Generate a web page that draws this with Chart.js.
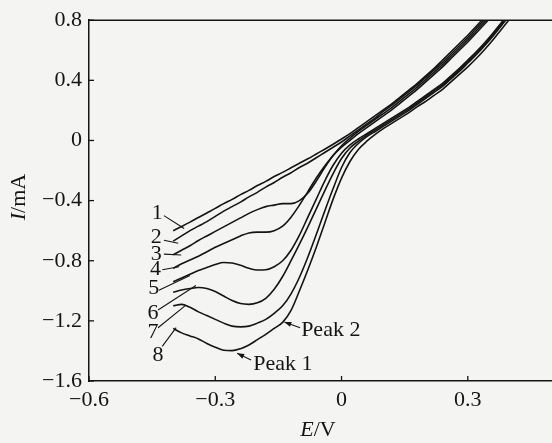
<!DOCTYPE html>
<html>
<head>
<meta charset="utf-8">
<script src="https://cdn.jsdelivr.net/npm/chart.js@4/dist/chart.umd.min.js"></script>
<style>
  html,body{margin:0;padding:0;background:#f4f4f3;overflow:hidden;}
  #wrap{width:552px;height:443px;}
</style>
</head>
<body>
<div id="wrap"><canvas id="c" width="552" height="443"></canvas></div>
<script>
// Potential grid (V)
const E = [-0.40,-0.38,-0.36,-0.34,-0.32,-0.30,-0.28,-0.26,-0.24,-0.22,-0.20,-0.18,-0.16,-0.14,-0.12,-0.10,-0.08,-0.06,-0.04,-0.02,
           0.00,0.02,0.04,0.06,0.08,0.10,0.12,0.14,0.16,0.18,0.20,0.22,0.24,0.26,0.28,0.30,0.32,0.34,0.36,0.38,0.40,0.42];
// Currents (mA) for curves 1..8
const I1 = [-0.60,-0.572,-0.543,-0.512,-0.482,-0.452,-0.42,-0.392,-0.36,-0.332,-0.30,-0.272,-0.24,-0.212,-0.182,-0.152,-0.122,-0.09,-0.058,-0.025,
            0.01,0.045,0.085,0.125,0.165,0.205,0.245,0.29,0.335,0.38,0.43,0.48,0.535,0.59,0.645,0.70,0.76,0.82,0.88,null,null,null];
const I2 = [-0.67,-0.635,-0.60,-0.57,-0.54,-0.505,-0.47,-0.44,-0.41,-0.375,-0.345,-0.31,-0.28,-0.245,-0.215,-0.18,-0.15,-0.115,-0.08,-0.045,
            -0.01,0.03,0.07,0.11,0.15,0.195,0.235,0.28,0.325,0.37,0.42,0.47,0.52,0.575,0.63,0.685,0.745,0.805,0.865,null,null,null];
const I3 = [-0.76,-0.73,-0.70,-0.665,-0.635,-0.605,-0.575,-0.545,-0.515,-0.485,-0.46,-0.44,-0.43,-0.42,-0.42,-0.40,-0.35,-0.27,-0.18,-0.10,
            -0.035,0.015,0.06,0.10,0.14,0.18,0.22,0.265,0.31,0.355,0.405,0.455,0.505,0.56,0.615,0.67,0.73,0.79,0.85,null,null,null];
const I4 = [-0.85,-0.82,-0.795,-0.77,-0.74,-0.71,-0.685,-0.66,-0.635,-0.615,-0.61,-0.61,-0.60,-0.57,-0.51,-0.43,-0.34,-0.25,-0.17,-0.10,
            -0.045,0.00,0.045,0.085,0.125,0.165,0.205,0.25,0.295,0.34,0.39,0.44,0.49,0.545,0.60,0.655,0.715,0.775,0.835,0.895,null,null];
const I5 = [-0.94,-0.915,-0.89,-0.865,-0.845,-0.825,-0.812,-0.815,-0.83,-0.85,-0.862,-0.86,-0.84,-0.80,-0.73,-0.63,-0.51,-0.39,-0.27,-0.165,
            -0.085,-0.03,0.01,0.045,0.08,0.115,0.15,0.185,0.22,0.26,0.30,0.34,0.38,0.43,0.48,0.535,0.59,0.65,0.715,0.785,0.855,null];
const I6 = [-1.01,-0.995,-0.985,-0.978,-0.985,-1.005,-1.035,-1.065,-1.085,-1.09,-1.08,-1.05,-0.99,-0.905,-0.80,-0.69,-0.575,-0.455,-0.335,-0.22,
            -0.12,-0.05,-0.005,0.035,0.07,0.105,0.14,0.175,0.21,0.25,0.29,0.33,0.37,0.42,0.47,0.525,0.58,0.64,0.705,0.775,0.845,null];
const I7 = [-1.10,-1.09,-1.11,-1.14,-1.165,-1.19,-1.215,-1.235,-1.24,-1.235,-1.215,-1.19,-1.15,-1.10,-1.02,-0.91,-0.775,-0.625,-0.47,-0.32,
            -0.18,-0.08,-0.02,0.025,0.06,0.095,0.13,0.165,0.20,0.24,0.28,0.32,0.36,0.41,0.46,0.515,0.57,0.63,0.695,0.765,0.835,null];
const I8 = [-1.25,-1.28,-1.30,-1.32,-1.35,-1.375,-1.395,-1.398,-1.385,-1.36,-1.325,-1.29,-1.25,-1.21,-1.13,-1.00,-0.86,-0.71,-0.55,-0.39,
            -0.25,-0.14,-0.06,-0.005,0.04,0.08,0.115,0.15,0.185,0.225,0.26,0.30,0.34,0.39,0.44,0.49,0.545,0.605,0.67,0.74,0.81,0.88];
const curves = [I1,I2,I3,I4,I5,I6,I7,I8];

// Axis ticks
const xTicks = [-0.6,-0.3,0,0.3];
const yTicks = [0.8,0.4,0,-0.4,-0.8,-1.2,-1.6];

// Curve number labels and leader lines (data coordinates)
const curveNames = ['1','2','3','4','5','6','7','8'];
const labelE = [-0.438,-0.440,-0.440,-0.442,-0.446,-0.448,-0.448,-0.436];
const labelI = [-0.481,-0.644,-0.754,-0.856,-0.983,-1.146,-1.277,-1.429];
const leadE0 = [-0.422,-0.422,-0.422,-0.426,-0.434,-0.436,-0.436,-0.426];
const leadI0 = [-0.500,-0.664,-0.756,-0.860,-0.997,-1.128,-1.246,-1.370];
const leadE1 = [-0.374,-0.388,-0.381,-0.386,-0.360,-0.346,-0.372,-0.393];
const leadI1 = [-0.586,-0.684,-0.762,-0.840,-0.899,-0.965,-1.100,-1.245];

// Peak annotations
const peakNames = ['Peak 1','Peak 2'];
const peakE = [-0.210,-0.096];
const peakI = [-1.488,-1.265];
const arrowE0 = [-0.215,-0.0985];
const arrowI0 = [-1.461,-1.246];
const arrowE1 = [-0.248,-0.136];
const arrowI1 = [-1.416,-1.207];

const FONT = '"Liberation Serif","Times New Roman",serif';
const INK = '#141414';

const deco = {
  id: 'deco',
  afterDraw(chart) {
    const {ctx, chartArea: a, scales: {x, y}} = chart;
    const px = v => x.getPixelForValue(v), py = v => y.getPixelForValue(v);
    ctx.save();
    ctx.strokeStyle = INK; ctx.fillStyle = INK;
    // top frame line
    ctx.lineWidth = 1.5;
    ctx.beginPath(); ctx.moveTo(a.left, a.top); ctx.lineTo(a.right, a.top); ctx.stroke();
    // inward ticks
    ctx.lineWidth = 1.3;
    xTicks.forEach(v => { const p = px(v); ctx.beginPath(); ctx.moveTo(p, a.bottom); ctx.lineTo(p, a.bottom - 5); ctx.stroke(); });
    yTicks.forEach(v => { const p = py(v); ctx.beginPath(); ctx.moveTo(a.left, p); ctx.lineTo(a.left + 5, p); ctx.stroke(); });
    // curve labels
    ctx.font = '22px ' + FONT; ctx.textAlign = 'center'; ctx.textBaseline = 'middle';
    ctx.lineWidth = 1.1;
    curveNames.forEach((t, i) => {
      ctx.fillText(t, px(labelE[i]), py(labelI[i]));
      ctx.beginPath(); ctx.moveTo(px(leadE0[i]), py(leadI0[i])); ctx.lineTo(px(leadE1[i]), py(leadI1[i])); ctx.stroke();
    });
    // peak labels with arrows
    ctx.textAlign = 'left';
    peakNames.forEach((t, i) => {
      ctx.fillText(t, px(peakE[i]), py(peakI[i]));
      const x0 = px(arrowE0[i]), y0 = py(arrowI0[i]), x1 = px(arrowE1[i]), y1 = py(arrowI1[i]);
      ctx.beginPath(); ctx.moveTo(x0, y0); ctx.lineTo(x1, y1); ctx.stroke();
      const ang = Math.atan2(y1 - y0, x1 - x0), L = 7, W = 2.6;
      ctx.beginPath();
      ctx.moveTo(x1, y1);
      ctx.lineTo(x1 - L * Math.cos(ang) + W * Math.sin(ang), y1 - L * Math.sin(ang) - W * Math.cos(ang));
      ctx.lineTo(x1 - L * Math.cos(ang) - W * Math.sin(ang), y1 - L * Math.sin(ang) + W * Math.cos(ang));
      ctx.closePath(); ctx.fill();
    });
    // axis titles
    const drawMixed = (parts, cx, cy) => {
      let w = 0;
      parts.forEach(p => { ctx.font = p[1] + '22px ' + FONT; w += ctx.measureText(p[0]).width; });
      let xx = cx - w / 2;
      ctx.textAlign = 'left';
      parts.forEach(p => { ctx.font = p[1] + '22px ' + FONT; ctx.fillText(p[0], xx, cy); xx += ctx.measureText(p[0]).width; });
    };
    drawMixed([['E', 'italic '], ['/V', '']], 318, 430);
    ctx.save();
    ctx.translate(19, 197); ctx.rotate(-Math.PI / 2);
    drawMixed([['I', 'italic '], ['/mA', '']], 0, 0);
    ctx.restore();
    ctx.restore();
  }
};

const datasets = curves.map((arr, k) => ({
  label: curveNames[k],
  data: E.map((e, i) => ({x: e, y: arr[i]})).filter(p => p.y !== null),
  borderColor: INK,
  borderWidth: 1.6,
  pointRadius: 0,
  fill: false,
  cubicInterpolationMode: 'monotone'
}));

const fmt = v => String(v).replace('-', '\u2212');

new Chart(document.getElementById('c'), {
  type: 'line',
  data: {datasets},
  options: {
    responsive: false,
    animation: false,
    layout: {padding: {top: 14, right: 0, bottom: 0, left: 0}},
    plugins: {legend: {display: false}, tooltip: {enabled: false}},
    scales: {
      x: {
        type: 'linear', min: -0.6, max: 0.5,
        afterBuildTicks: s => { s.ticks = xTicks.map(v => ({value: v})); },
        afterFit: s => { s.height = 62; },
        grid: {display: false, drawTicks: false},
        border: {display: true, color: INK, width: 1.5},
        ticks: {font: {family: FONT, size: 22}, color: INK, padding: 6, maxRotation: 0, autoSkip: false, callback: fmt}
      },
      y: {
        type: 'linear', min: -1.6, max: 0.8,
        afterBuildTicks: s => { s.ticks = yTicks.map(v => ({value: v})); },
        afterFit: s => { s.width = 89; },
        grid: {display: false, drawTicks: false},
        border: {display: true, color: INK, width: 1.5},
        ticks: {font: {family: FONT, size: 22}, color: INK, padding: 7, autoSkip: false, callback: fmt}
      }
    }
  },
  plugins: [deco]
});
</script>
</body>
</html>
